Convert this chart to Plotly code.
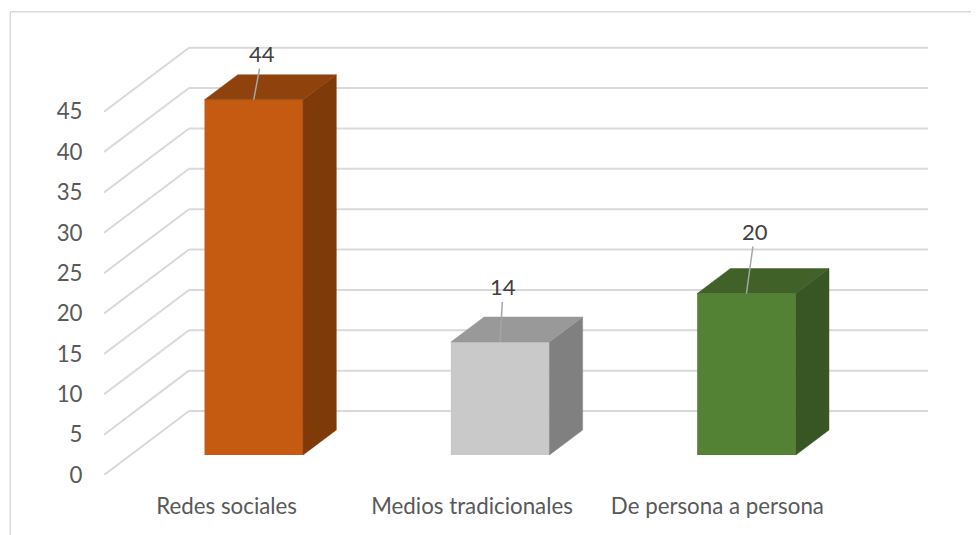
import plotly.graph_objects as go

categories = ["Redes sociales", "Medios tradicionales", "De persona a persona"]
values = [44, 14, 20]
y_ticks = [0, 5, 10, 15, 20, 25, 30, 35, 40, 45]

front_colors = ["#C55A11", "#C9C9C9", "#548235"]
top_colors = ["#8F420C", "#999999", "#406128"]
side_colors = ["#7F3A09", "#808080", "#375623"]

# Fake 3D depth, in axis units (x = categories, y = value).
WALL_DX, WALL_DY = 0.345, 7.92
BAR_DX, BAR_DY = 0.135, 3.09
BAR_OFFSET = 0.108
BAR_BASE = 2.475
BAR_WIDTH = 0.4
X_MIN, X_MAX = -0.5, 2.845
Y_MAX = 53.5

GRID = "#D9D9D9"
TEXT = "#595959"

# Offset of each data label from the top of its bar, in pixels.
label_ax = [8.5, 3, 8.5]
label_ay = [-46, -55, -62]

# Category labels sit slightly closer together than the bars.
label_x = [-0.002, 0.994, 1.99]

fig = go.Figure()

fig.add_trace(go.Bar(
    x=[i + BAR_OFFSET for i in range(len(values))],
    y=values,
    base=BAR_BASE,
    width=BAR_WIDTH,
    marker=dict(color=front_colors, line_width=0),
    hoverinfo="skip",
))

for i, v in enumerate(values):
    left = i + BAR_OFFSET - BAR_WIDTH / 2
    right = left + BAR_WIDTH
    bottom = BAR_BASE
    top = BAR_BASE + v
    fig.add_trace(go.Scatter(
        x=[right, right + BAR_DX, right + BAR_DX, right, right],
        y=[bottom, bottom + BAR_DY, top + BAR_DY, top, bottom],
        mode="lines", fill="toself", fillcolor=side_colors[i],
        line=dict(color=side_colors[i], width=0.5), hoverinfo="skip",
    ))
    fig.add_trace(go.Scatter(
        x=[left, left + BAR_DX, right + BAR_DX, right, left],
        y=[top, top + BAR_DY, top + BAR_DY, top, top],
        mode="lines", fill="toself", fillcolor=top_colors[i],
        line=dict(color=top_colors[i], width=0.5), hoverinfo="skip",
    ))
    fig.add_annotation(
        x=i + BAR_OFFSET, y=top, text=str(v),
        showarrow=True, arrowhead=0, arrowwidth=1.5, arrowcolor="#A6A6A6",
        ax=label_ax[i], ay=label_ay[i],
        font=dict(family="Lato", size=22, color="#404040"),
    )

# Side wall and back wall lines, under the bars.
for t in y_ticks:
    fig.add_shape(type="line", layer="below", x0=X_MIN, y0=t,
                  x1=X_MIN + WALL_DX, y1=t + WALL_DY,
                  line=dict(color=GRID, width=2))
    fig.add_shape(type="line", layer="below", x0=X_MIN + WALL_DX, y0=t + WALL_DY,
                  x1=X_MAX, y1=t + WALL_DY,
                  line=dict(color=GRID, width=2))

# The page has an 8px body margin, so everything is placed 8px up and left.
PAGE_W, PAGE_H = 971, 527
PLOT_L, PLOT_T, PLOT_W, PLOT_H = 96.2, 34.7, 824, 432.5

# Chart frame, runs off the right and bottom of the page.
frame_x = (2.5 - PLOT_L) / PLOT_W
frame_y = 1 + (PLOT_T - 3.5) / PLOT_H
fig.add_shape(type="line", xref="paper", yref="paper", layer="below",
              x0=frame_x, y0=frame_y, x1=1.1, y1=frame_y,
              line=dict(color=GRID, width=1.5))
fig.add_shape(type="line", xref="paper", yref="paper", layer="below",
              x0=frame_x, y0=frame_y, x1=frame_x, y1=-0.2,
              line=dict(color=GRID, width=1.5))

fig.update_layout(
    width=PAGE_W, height=PAGE_H,
    margin=dict(l=PLOT_L, r=PAGE_W - PLOT_L - PLOT_W, t=PLOT_T,
                b=PAGE_H - PLOT_T - PLOT_H, pad=0),
    paper_bgcolor="white", plot_bgcolor="rgba(0,0,0,0)",
    showlegend=False,
    font=dict(family="Lato", size=22.3, color=TEXT),
    xaxis=dict(
        range=[X_MIN, X_MAX],
        tickvals=label_x, ticktext=categories,
        ticks="outside", ticklen=11, tickcolor="rgba(0,0,0,0)",
        showgrid=False, zeroline=False, showline=False,
    ),
    yaxis=dict(
        range=[0, Y_MAX],
        tickvals=y_ticks,
        ticks="outside", ticklen=16, tickcolor="rgba(0,0,0,0)",
        showgrid=False, zeroline=False, showline=False,
    ),
)

fig.write_html("out.html")
